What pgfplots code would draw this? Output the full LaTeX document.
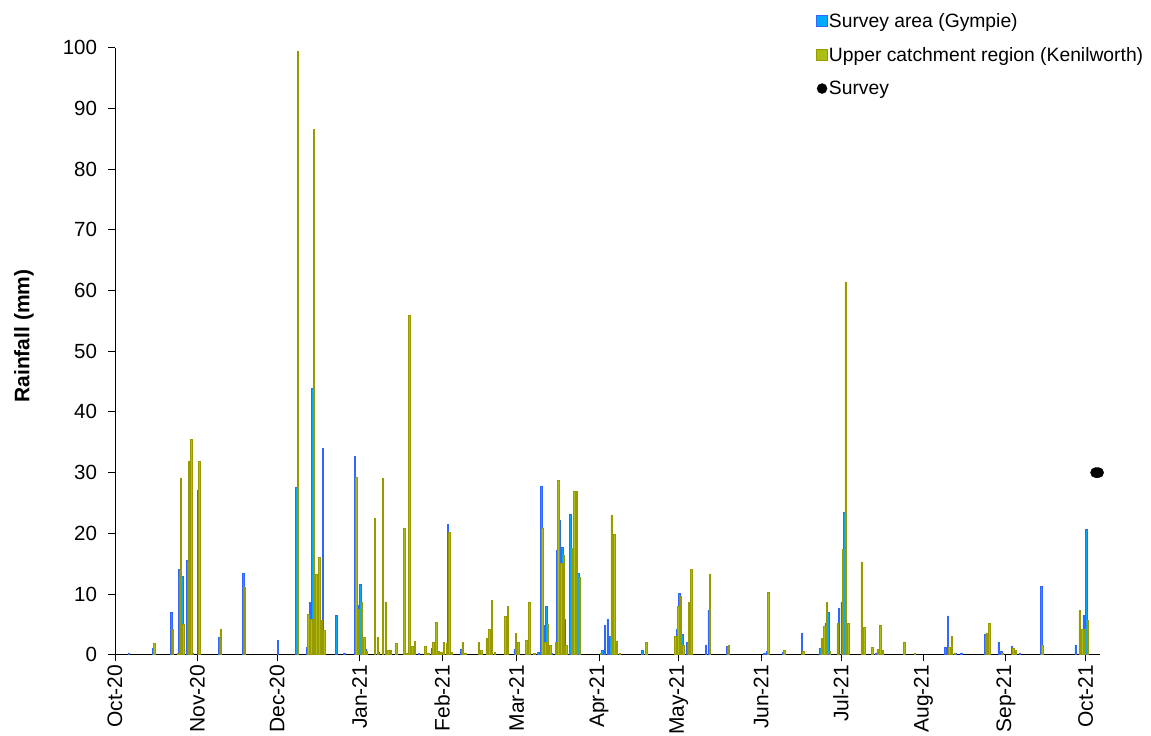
\documentclass[border=0pt]{standalone}
\usepackage{pgfplots}
\pgfplotsset{compat=1.18}
\usepackage{pgfplotstable}
\usepackage{fontspec}
\setmainfont{Liberation Sans}
\definecolor{gbar}{RGB}{51,102,255}
\definecolor{gfill}{RGB}{0,170,255}
\definecolor{kbar}{RGB}{153,153,0}
\definecolor{kfill}{RGB}{170,190,20}

% day index: 0 = 1 Oct 2020
\pgfplotstableread{
d v
5 0.3
14 1.0
21 7.0
24 14.0
25 12.9
27 15.6
29 0.3
31 27.0
39 2.8
48 13.4
61 2.3
68 27.6
72 1.2
73 8.6
74 43.9
75 5.0
76 2.4
77 1.0
78 34.0
83 6.5
86 0.3
90 32.6
91 8.2
92 11.6
93 0.3
94 0.9
99 0.4
114 0.3
119 1.0
125 21.5
130 0.9
150 0.9
159 0.4
160 27.8
161 4.8
162 8.0
164 0.3
166 17.2
167 22.1
168 17.7
169 5.8
171 23.2
172 4.0
174 13.4
183 0.7
184 4.8
185 5.8
186 3.0
187 11.8
198 0.8
211 4.2
212 10.1
213 3.4
215 2.0
222 1.6
223 7.3
230 1.4
244 0.3
245 0.5
251 0.4
258 3.6
265 1.0
267 5.2
268 7.0
272 7.7
273 8.7
274 23.4
281 4.1
286 0.3
312 1.2
313 6.4
316 0.3
318 0.3
327 3.4
332 2.1
333 0.5
337 1.4
340 0.3
348 11.3
361 1.6
363 2.4
364 6.5
365 20.7
}\gympie

\pgfplotstableread{
d v
14 1.9
21 4.2
23 0.3
24 29.0
25 5.0
27 31.9
28 35.4
31 31.9
39 4.1
48 11.1
68 99.4
72 6.6
73 5.9
74 86.5
75 13.3
76 16.0
77 5.7
78 4.0
90 29.2
91 7.5
92 8.7
93 2.9
94 0.5
97 22.4
98 2.9
100 29.1
101 8.7
102 0.7
103 0.8
105 1.9
108 20.9
109 0.3
110 55.9
111 1.3
112 2.2
116 1.3
117 0.3
119 2.1
120 5.3
121 0.6
122 0.4
123 2.0
124 1.9
125 20.2
126 0.4
130 2.0
131 0.3
136 2.0
137 0.7
139 2.7
140 4.1
141 9.0
142 0.4
146 6.4
147 8.0
150 3.5
151 2.1
154 2.4
155 8.7
157 0.2
160 20.9
161 2.0
162 5.0
163 1.5
165 2.0
166 28.7
167 15.0
168 16.3
169 1.5
171 17.6
172 26.9
173 26.9
174 12.8
182 0.3
186 23.0
187 19.9
188 2.2
189 0.3
199 2.0
210 3.0
211 7.9
212 9.6
213 1.6
215 8.6
216 14.0
223 13.3
230 1.5
245 10.2
251 0.7
258 0.5
265 2.7
266 4.6
267 8.6
268 0.5
271 5.1
273 17.3
274 61.4
275 5.1
280 15.3
281 4.5
284 1.2
286 0.9
287 4.9
288 0.7
296 2.1
300 0.3
313 1.2
314 3.0
315 0.3
327 3.6
328 5.2
333 0.3
337 1.0
338 0.7
348 1.5
362 7.3
363 4.1
364 4.1
365 5.6
}\kenilworth

\begin{document}
\begin{tikzpicture}
\begin{axis}[
  scale only axis,
  width=985pt, height=607pt,
  at={(0pt,0pt)}, anchor=south west,
  xmin=0, xmax=370.4, ymin=0, ymax=100,
  axis lines*=left,
  axis line style={-, black, line width=0.8pt},
  tick style={black, line width=0.8pt},
  tick align=outside,
  major tick length=6.5pt,
  xtick={0,31,61,92,123,151,182,212,243,273,304,335,365},
  xticklabels={Oct-20,Nov-20,Dec-20,Jan-21,Feb-21,Mar-21,Apr-21,May-21,Jun-21,Jul-21,Aug-21,Sep-21,Oct-21},
  x tick label style={rotate=90, anchor=east, font=\fontsize{21}{24}\selectfont},
  ytick={0,10,...,100},
  y tick label style={font=\fontsize{20.5}{24}\selectfont, xshift=-8pt},
  /pgf/number format/assume math mode=true,
  every axis y label/.style={at={(rel axis cs:0,0.525)}, xshift=-91pt, rotate=90, anchor=center},
  ylabel={\fontsize{21}{24}\selectfont\bfseries Rainfall (mm)},
  clip=false,
  legend cell align=left,
  legend style={at={(0.7117,1.059)}, anchor=north west, draw=none, fill=none,
    font=\fontsize{19.3}{23}\selectfont, row sep=16.5pt, inner sep=0pt,
    nodes={inner sep=1pt}},
]
\addplot[ybar, bar width=0.55, bar shift=0pt, draw=gbar, fill=gfill, line width=0.65pt,
  legend image code/.code={\draw[draw=gbar, fill=gfill, line width=0.7pt] (0pt,-5.5pt) rectangle (11pt,5.5pt);}]
  table[x expr=\thisrow{d}+0.25, y=v] {\gympie};
\addlegendentry{Survey area (Gympie)}
\addplot[ybar, bar width=0.55, bar shift=0pt, draw=kbar, fill=kfill, line width=0.65pt,
  legend image code/.code={\draw[draw=kbar, fill=kfill, line width=0.7pt] (0pt,-5.5pt) rectangle (11pt,5.5pt);}]
  table[x expr=\thisrow{d}+0.75, y=v] {\kenilworth};
\addlegendentry{Upper catchment region (Kenilworth)}
\addplot[only marks, mark=*, mark size=5pt, black,
  legend image code/.code={\fill[black] (5.5pt,0pt) circle (5pt);}]
  coordinates {(368.7,30) (369.3,30) (369.9,30)};
\addlegendentry{Survey}
\end{axis}
\pgfresetboundingbox
\path (-115pt,-81.3pt) rectangle (1036pt,654.7pt);
\end{tikzpicture}
\end{document}
